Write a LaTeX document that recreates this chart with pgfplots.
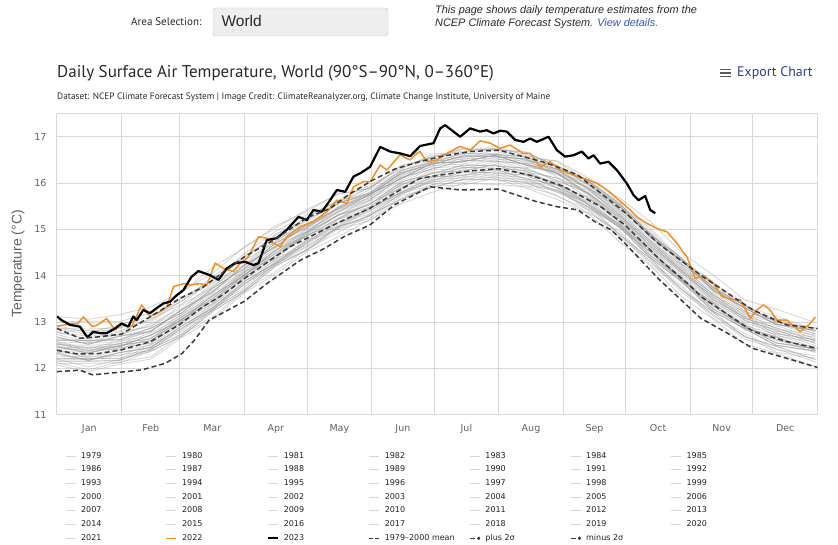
\documentclass[border=0pt]{standalone}
\usepackage{fontspec}
\setmainfont{DejaVu Sans}
\newfontfamily\ptsans{PT Sans}
\newfontfamily\libsans{Liberation Sans}
\usepackage{pgfplots}
\usepackage{pgfplotstable}
\pgfplotsset{compat=1.18}
\definecolor{gridc}{RGB}{216,216,216}
\definecolor{ticklab}{RGB}{96,96,96}
\definecolor{orangec}{RGB}{247,141,30}
\definecolor{dashc}{RGB}{58,58,58}
\definecolor{grayln}{RGB}{150,150,150}
\definecolor{navyc}{RGB}{45,60,145}
\definecolor{txtdark}{RGB}{40,40,40}
\definecolor{legtxt}{RGB}{34,34,34}
\definecolor{linkblue}{RGB}{51,85,187}
\definecolor{boxdraw}{RGB}{200,200,200}
\definecolor{boxfill}{RGB}{238,238,238}

\pgfplotstableread{
d y1979 y1980 y1981 y1982 y1983 y1984 y1985 y1986 y1987 y1988 y1989 y1990 y1991 y1992 y1993 y1994 y1995 y1996 y1997 y1998 y1999 y2000 y2001 y2002 y2003 y2004 y2005 y2006 y2007 y2008 y2009 y2010 y2011 y2012 y2013 y2014 y2015 y2016 y2017 y2018 y2019 y2020 y2021
0 12.12 12.25 12.40 12.10 12.49 12.16 12.07 12.20 12.41 12.55 12.15 12.47 12.44 12.33 12.20 12.31 12.53 12.22 12.36 12.80 12.33 12.21 12.47 12.60 12.68 12.55 12.62 12.58 12.77 12.35 12.51 12.88 12.45 12.52 12.66 12.61 12.78 13.12 12.86 12.73 12.92 13.00 12.68
15 11.97 12.26 12.22 12.11 12.33 12.15 11.93 12.03 12.42 12.38 12.16 12.32 12.46 12.18 12.21 12.17 12.38 12.21 12.35 12.82 12.17 12.19 12.33 12.61 12.52 12.56 12.60 12.42 12.70 12.27 12.50 12.72 12.37 12.45 12.53 12.60 12.63 13.06 12.85 12.57 12.77 13.02 12.52
30 12.14 12.27 12.39 12.12 12.50 12.17 12.09 12.19 12.41 12.54 12.17 12.49 12.47 12.34 12.22 12.34 12.47 12.21 12.44 12.80 12.34 12.29 12.49 12.61 12.70 12.57 12.62 12.59 12.71 12.44 12.52 12.89 12.54 12.47 12.69 12.62 12.79 13.16 12.87 12.74 12.94 13.01 12.69
45 12.25 12.52 12.50 12.37 12.60 12.42 12.20 12.37 12.66 12.64 12.42 12.59 12.72 12.45 12.47 12.45 12.72 12.40 12.55 13.07 12.45 12.39 12.60 12.87 12.79 12.82 12.80 12.70 12.96 12.54 12.77 13.00 12.64 12.72 12.80 12.87 12.90 13.33 13.04 12.92 13.12 13.19 12.86
60 12.72 12.84 12.97 12.70 13.07 12.74 12.67 12.70 13.00 13.12 12.75 13.07 13.04 12.92 12.80 12.92 13.05 12.87 13.02 13.39 12.92 12.87 13.07 13.20 13.27 13.15 13.27 13.17 13.30 13.02 13.10 13.47 13.12 13.05 13.27 13.20 13.37 13.64 13.52 13.25 13.45 13.67 13.20
75 13.12 13.39 13.37 13.24 13.47 13.29 13.07 13.24 13.54 13.51 13.28 13.46 13.59 13.31 13.34 13.31 13.59 13.27 13.41 13.94 13.31 13.26 13.46 13.74 13.66 13.69 13.66 13.56 13.84 13.41 13.64 13.86 13.51 13.59 13.66 13.74 13.76 14.19 13.91 13.79 13.99 14.06 13.74
90 13.68 13.80 13.93 13.65 14.03 13.70 13.63 13.66 13.96 14.08 13.70 14.03 14.00 13.88 13.75 13.88 14.01 13.83 13.98 14.35 13.88 13.83 14.03 14.15 14.23 14.10 14.23 14.13 14.25 13.98 14.06 14.43 14.08 14.01 14.23 14.16 14.33 14.60 14.48 14.21 14.41 14.63 14.16
105 14.09 14.36 14.34 14.21 14.44 14.26 14.04 14.21 14.51 14.48 14.26 14.43 14.56 14.28 14.31 14.28 14.56 14.24 14.38 14.91 14.28 14.23 14.43 14.71 14.63 14.66 14.63 14.53 14.81 14.38 14.61 14.83 14.48 14.56 14.63 14.71 14.73 15.08 14.96 14.76 14.88 15.03 14.71
120 14.58 14.67 14.75 14.56 14.87 14.55 14.52 14.56 14.85 14.93 14.62 14.92 14.86 14.72 14.64 14.78 14.86 14.73 14.91 15.17 14.77 14.70 14.95 15.02 15.08 14.95 15.12 15.03 15.09 14.88 14.96 15.27 15.00 14.94 15.12 15.05 15.22 15.39 15.32 15.09 15.25 15.43 15.05
135 14.93 15.14 15.01 15.06 15.14 15.01 14.84 15.06 15.24 15.31 15.06 15.32 15.23 15.07 15.04 15.21 15.23 15.16 15.29 15.59 15.09 15.22 15.31 15.49 15.38 15.41 15.44 15.46 15.44 15.31 15.38 15.62 15.36 15.47 15.44 15.56 15.54 15.77 15.59 15.57 15.63 15.76 15.48
150 15.31 15.33 15.31 15.28 15.46 15.18 15.21 15.29 15.61 15.48 15.45 15.53 15.56 15.23 15.41 15.43 15.56 15.38 15.71 15.73 15.46 15.48 15.63 15.76 15.63 15.66 15.73 15.76 15.68 15.53 15.76 15.78 15.76 15.73 15.81 15.78 15.91 15.88 15.91 15.78 15.96 15.88 15.86
165 15.64 15.82 15.65 15.77 15.79 15.67 15.55 15.77 15.94 15.97 15.79 16.02 15.89 15.72 15.74 15.92 15.89 15.87 16.04 16.22 15.79 15.97 16.12 16.09 16.12 15.99 16.22 16.09 16.17 16.02 16.09 16.27 16.09 16.22 16.14 16.27 16.24 16.37 16.32 16.19 16.29 16.37 16.19
180 15.97 16.01 15.90 16.03 16.05 15.93 15.80 15.96 16.28 16.15 16.13 16.20 16.23 15.90 16.08 16.10 16.23 16.05 16.38 16.40 16.13 16.15 16.30 16.43 16.30 16.33 16.40 16.43 16.35 16.20 16.43 16.45 16.43 16.40 16.48 16.45 16.58 16.55 16.58 16.45 16.63 16.55 16.53
195 16.01 16.19 16.08 16.06 16.24 15.96 15.99 16.14 16.31 16.34 16.16 16.39 16.26 16.09 16.11 16.29 16.26 16.24 16.41 16.59 16.16 16.34 16.49 16.46 16.49 16.36 16.59 16.46 16.54 16.39 16.46 16.64 16.46 16.59 16.51 16.64 16.61 16.74 16.69 16.56 16.66 16.74 16.56
210 16.15 16.17 16.07 16.20 16.22 16.10 15.97 16.12 16.45 16.32 16.30 16.37 16.40 16.07 16.25 16.27 16.40 16.22 16.55 16.57 16.30 16.32 16.47 16.60 16.47 16.50 16.57 16.60 16.52 16.37 16.60 16.62 16.60 16.57 16.65 16.62 16.75 16.72 16.75 16.62 16.80 16.72 16.70
225 15.94 16.12 16.02 15.99 16.17 15.89 15.92 16.07 16.24 16.27 16.09 16.32 16.19 16.02 16.04 16.22 16.19 16.17 16.34 16.52 16.09 16.27 16.42 16.39 16.42 16.29 16.52 16.39 16.47 16.32 16.39 16.57 16.39 16.52 16.44 16.57 16.54 16.67 16.62 16.49 16.59 16.67 16.49
240 15.86 15.80 15.84 15.81 15.89 15.65 15.74 15.83 16.11 15.90 15.96 16.05 16.01 15.71 15.91 15.95 16.03 15.90 16.26 16.13 15.96 15.96 16.21 16.18 16.21 16.10 16.29 16.21 16.21 16.05 16.29 16.21 16.23 16.25 16.31 16.30 16.48 16.36 16.39 16.30 16.46 16.35 16.38
255 15.48 15.49 15.45 15.58 15.40 15.34 15.35 15.61 15.68 15.54 15.53 15.79 15.53 15.43 15.48 15.69 15.56 15.64 15.88 15.76 15.53 15.68 15.78 15.91 15.78 15.84 15.85 15.98 15.73 15.79 15.90 15.88 15.76 15.99 15.88 16.04 16.11 16.08 15.95 16.04 16.03 16.04 15.96
270 15.11 14.88 15.06 15.03 14.91 14.73 14.96 15.08 15.26 14.88 15.11 15.23 15.06 14.83 15.06 15.13 15.11 15.08 15.51 15.16 15.03 15.16 15.28 15.41 15.28 15.36 15.33 15.51 15.18 15.31 15.43 15.31 15.23 15.51 15.38 15.56 15.68 15.56 15.43 15.56 15.53 15.51 15.48
285 14.43 14.36 14.38 14.51 14.23 14.21 14.28 14.56 14.58 14.36 14.43 14.71 14.38 14.31 14.38 14.61 14.43 14.56 14.83 14.56 14.51 14.48 14.76 14.73 14.76 14.68 14.81 14.83 14.66 14.63 14.91 14.63 14.71 14.83 14.86 14.88 15.16 14.88 14.91 14.88 15.01 14.83 14.96
300 13.92 13.69 13.87 13.84 13.72 13.54 13.77 13.89 14.07 13.69 13.92 14.04 13.87 13.64 13.87 13.94 13.92 13.89 14.32 13.89 13.92 13.97 14.09 14.22 14.09 14.17 14.14 14.32 13.99 14.12 14.24 14.12 14.04 14.32 14.19 14.37 14.49 14.37 14.24 14.37 14.34 14.32 14.29
315 13.28 13.21 13.23 13.36 13.08 13.06 13.13 13.41 13.43 13.21 13.28 13.56 13.23 13.16 13.23 13.46 13.28 13.41 13.68 13.41 13.36 13.33 13.61 13.58 13.61 13.53 13.66 13.68 13.51 13.48 13.76 13.48 13.56 13.68 13.71 13.73 14.01 13.73 13.76 13.73 13.86 13.68 13.81
330 12.91 12.68 12.86 12.83 12.71 12.53 12.76 12.88 13.06 12.68 12.91 13.03 12.86 12.63 12.86 12.93 12.91 12.88 13.31 12.88 12.91 12.96 13.08 13.21 13.08 13.16 13.13 13.31 12.98 13.11 13.23 13.11 13.03 13.31 13.18 13.36 13.48 13.36 13.23 13.36 13.33 13.31 13.28
345 12.55 12.48 12.50 12.63 12.35 12.33 12.40 12.68 12.70 12.48 12.55 12.83 12.50 12.43 12.50 12.73 12.55 12.68 12.95 12.68 12.63 12.60 12.88 12.85 12.88 12.80 12.93 12.95 12.78 12.75 13.03 12.75 12.83 12.95 12.98 13.00 13.28 13.00 13.03 13.00 13.13 12.95 13.08
364 12.42 12.19 12.37 12.34 12.22 12.04 12.27 12.39 12.57 12.19 12.42 12.54 12.37 12.14 12.37 12.44 12.42 12.39 12.82 12.39 12.42 12.47 12.59 12.72 12.59 12.67 12.64 12.82 12.49 12.62 12.74 12.62 12.54 12.82 12.69 12.87 12.99 12.87 12.74 12.87 12.84 12.82 12.79
}\graydata

\newcommand\legyr[1]{\addlegendentry{\makebox[79.5pt][l]{#1}}}
\pgfplotsset{grayline/.style={color=grayln, line width=0.9pt, draw opacity=0.38, line join=round}}

\begin{document}
\begin{tikzpicture}[x=1pt,y=1pt]
\path[use as bounding box] (0,0) rectangle (838,545);
% page header
\node[anchor=east, font=\ptsans\fontsize{11}{13}\selectfont, text=txtdark] at (205,523) {Area Selection:};
\draw[draw=boxdraw, fill=boxfill, rounded corners=3pt] (213,537) rectangle (388,509);
\node[anchor=west, font=\libsans\fontsize{15.5}{17}\selectfont, text=txtdark] at (218,524) {World};
\node[anchor=north west, align=left, inner sep=0pt, font=\libsans\itshape\fontsize{10.9}{13}\selectfont, text=txtdark] at (435,539.5) {This page shows daily temperature estimates from the\\NCEP Climate Forecast System. \textcolor{linkblue}{View details.}};
% chart title
\node[anchor=west, inner sep=0pt, font=\ptsans\fontsize{17}{20}\selectfont, text=txtdark] at (57,472) {Daily Surface Air Temperature, World (90°S–90°N, 0–360°E)};
\node[anchor=west, inner sep=0pt, font=\ptsans\fontsize{9.3}{11}\selectfont, text=txtdark] at (57,448) {Dataset: NCEP Climate Forecast System | Image Credit: ClimateReanalyzer.org, Climate Change Institute, University of Maine};
\foreach \yy in {468.5,472,475.5} \draw[line width=1.5pt, color=black!65] (720,\yy) -- (731,\yy);
\node[anchor=west, inner sep=0pt, font=\ptsans\fontsize{13.9}{16}\selectfont, text=navyc] at (737,472) {Export Chart};

\begin{axis}[
  at={(57pt,130.3pt)}, anchor=south west, scale only axis,
  width=760.5pt, height=301.6pt,
  xmin=0, xmax=365, ymin=11, ymax=17.51,
  xtick={15.5,45,74.5,105,135.5,166,196.5,227.5,258,288.5,319,349.5},
  xticklabels={Jan,Feb,Mar,Apr,May,Jun,Jul,Aug,Sep,Oct,Nov,Dec},
  minor xtick={0,31,59,90,120,151,181,212,243,273,304,334,365},
  xminorgrids=true, xmajorgrids=false, ymajorgrids=true,
  ytick={11,12,13,14,15,16,17},
  major tick length=0pt, minor tick length=0pt,
  major grid style={draw=gridc, line width=1pt},
  minor grid style={draw=gridc, line width=1pt},
  axis line style={draw=gridc, line width=1pt},
  tick label style={font=\fontsize{9.5}{11}\selectfont, text=ticklab},
  xticklabel style={yshift=-6pt},
  yticklabel style={xshift=-7pt},
  /pgf/number format/assume math mode=true,
  ylabel={Temperature (°C)},
  every axis y label/.style={at={(axis description cs:-0.0513,0.5)}, rotate=90, anchor=center, font=\libsans\fontsize{14}{16}\selectfont, text=ticklab},
  legend columns=7,
  legend cell align=left,
  legend style={at={(axis description cs:0.0105,-0.1233)}, anchor=north west, draw=none, fill=none, inner sep=0pt,
    font=\fontsize{8}{9}\selectfont, text=legtxt,
    /tikz/every odd column/.append style={column sep=5pt},
    /tikz/every even column/.append style={column sep=5pt},
    nodes={inner sep=0pt, text height=6pt, text depth=2pt}, row sep=5.7pt},
  legend image code/.code={\draw[#1] (0pt,0pt) -- (10pt,0pt);},
]
\pgfplotsinvokeforeach{1979,...,2021}{
  \addplot[grayline] table[x=d, y=y#1] {\graydata};
  \legyr{#1}
}
\addplot[color=orangec, line width=1.5pt, line join=round] coordinates {
(0,12.91)(5,12.95)(10,12.97)(12.6,13.11)(17,12.90)(20,12.95)(23.8,13.08)(27.8,12.83)(31,12.94)(35.8,12.90)(40.6,13.37)(44.6,13.12)(49.4,13.22)(52.7,13.33)(55.9,13.76)(60.7,13.83)(64,13.80)(68.7,13.83)(71.9,13.80)(75.9,14.27)(79.9,14.16)(84.7,14.09)(87.9,14.27)(91.9,14.41)(96.7,14.84)(100.7,14.81)(103.9,14.70)(107.1,14.63)(110.3,14.84)(116.7,15.06)(123.1,15.17)(129.5,15.38)(134.3,15.63)(139.1,15.56)(142.3,15.92)(147.1,16.03)(150.3,16.03)(155.1,16.39)(158.3,16.28)(164.7,16.61)(167.9,16.53)(169.5,16.50)(172.7,16.64)(174.3,16.68)(177.5,16.46)(182.3,16.50)(188.7,16.68)(193.5,16.79)(198.3,16.71)(203.1,16.91)(207.9,16.86)(212.7,16.75)(217.5,16.82)(223.9,16.64)(227.1,16.64)(231.9,16.35)(236.7,16.46)(241.5,16.28)(247.9,16.17)(252.7,16.10)(259.1,16.00)(263.9,15.85)(268.7,15.67)(275.1,15.42)(278.3,15.27)(283.1,15.13)(287.9,15.02)(292.7,14.95)(297.5,14.70)(302.3,14.41)(306.3,13.94)(310.3,14.01)(315.1,13.83)(319.1,13.55)(324.7,13.48)(327.9,13.48)(332.7,13.08)(335.9,13.26)(339.1,13.37)(342.3,13.26)(345.5,13.04)(350.3,13.04)(356.7,12.79)(361.5,12.97)(364,13.11)};
\legyr{2022}
\addplot[color=black, line width=2.2pt, line join=round] coordinates {
(0,13.12)(2.2,13.04)(6.2,12.94)(11,12.90)(14.6,12.67)(17.4,12.79)(20.6,12.76)(23.8,12.76)(27.8,12.86)(31,12.97)(34.2,12.90)(36.6,13.12)(38.2,13.04)(41.4,13.26)(44.6,13.19)(47.8,13.30)(51,13.40)(54.3,13.44)(57.5,13.58)(60.7,13.69)(64.6,13.98)(67.9,14.10)(73.5,14.01)(77.5,13.91)(81.5,14.16)(85.5,14.27)(90.3,14.30)(94.3,14.23)(96.7,14.27)(100.7,14.77)(105.5,14.81)(110.3,14.99)(115.9,15.27)(119.9,15.20)(123.1,15.42)(127.1,15.38)(131.1,15.63)(134.3,15.85)(138.3,15.81)(142.3,16.14)(145.5,16.21)(150.3,16.35)(155.1,16.78)(159.9,16.68)(164.7,16.64)(169.5,16.58)(174.3,16.80)(180.7,16.86)(183.9,17.18)(186.3,17.25)(190.3,17.11)(193.5,17.00)(198.3,17.18)(203.1,17.11)(206.3,17.14)(209.5,17.07)(212.7,17.13)(215.9,17.11)(219.9,16.93)(223.9,16.89)(227.1,16.96)(230.3,16.89)(235.9,17.00)(239.9,16.71)(243.9,16.57)(247.9,16.60)(251.9,16.68)(255.1,16.53)(257.5,16.60)(260.7,16.42)(264.7,16.46)(268.7,16.28)(273.5,15.99)(276.7,15.74)(279.1,15.63)(282.3,15.72)(284.7,15.42)(287.1,15.35)};
\legyr{2023}
\addplot[color=dashc, line width=1.5pt, dash pattern=on 5pt off 3pt,
  legend image code/.code={\draw[dashc, line width=1.5pt] (0pt,0pt)--(4pt,0pt) (6pt,0pt)--(10pt,0pt);}] coordinates {
(0,12.39)(10,12.31)(20,12.32)(31,12.40)(45,12.58)(59,12.95)(70,13.33)(80,13.60)(90,13.94)(105,14.42)(112,14.63)(120,14.81)(131,15.06)(140,15.25)(150,15.45)(162,15.78)(174,16.10)(185,16.18)(198,16.26)(212,16.31)(227,16.17)(243,15.93)(261,15.49)(273,15.08)(289,14.36)(304,13.78)(309,13.55)(321,13.19)(334,12.80)(350,12.58)(365,12.43)};
\legyr{1979–2000 mean}
\addplot[color=dashc, line width=1.5pt, dash pattern=on 5pt off 3pt,
  legend image code/.code={\draw[dashc, line width=1.5pt] (0pt,0pt)--(6pt,0pt); \fill[dashc] (8.8pt,0pt) circle (0.8pt);}] coordinates {
(0,12.86)(11,12.65)(20,12.68)(31,12.74)(45,13.12)(59,13.51)(70,13.75)(80,14.08)(90,14.41)(104,14.77)(120,15.25)(131,15.45)(140,15.75)(151,16.05)(162,16.30)(174,16.46)(185,16.58)(198,16.68)(212,16.71)(233,16.46)(243,16.30)(250,16.17)(261,15.78)(273,15.35)(289,14.68)(309,14.01)(321,13.65)(334,13.26)(350,12.94)(365,12.86)};
\legyr{plus 2σ}
\addplot[color=dashc, line width=1.5pt, dash pattern=on 5pt off 3pt,
  legend image code/.code={\draw[dashc, line width=1.5pt] (0pt,0pt)--(6pt,0pt); \fill[dashc] (8.8pt,0pt) circle (0.8pt);}] coordinates {
(0,11.93)(11,11.96)(17,11.86)(31,11.92)(41,11.97)(52,12.11)(60,12.32)(66,12.61)(73,13.04)(90,13.45)(101,13.84)(117,14.34)(128,14.58)(138,14.85)(150,15.09)(162,15.53)(179,15.92)(194,15.85)(212,15.87)(230,15.60)(240,15.49)(250,15.42)(258,15.17)(266,14.99)(273,14.68)(289,13.92)(309,13.08)(321,12.78)(334,12.43)(350,12.22)(365,12.02)};
\legyr{minus 2σ}
\end{axis}
\end{tikzpicture}
\end{document}
